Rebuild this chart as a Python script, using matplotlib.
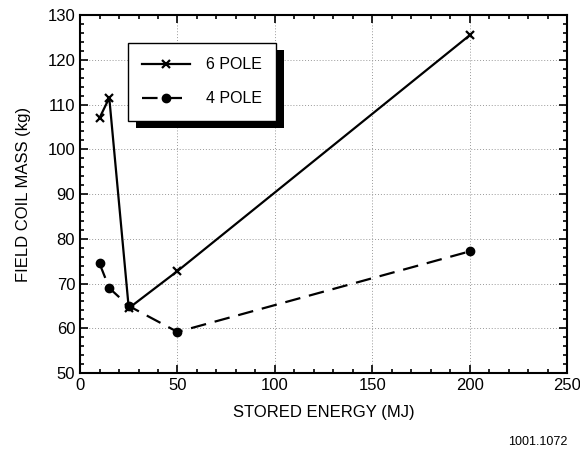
import matplotlib.pyplot as plt
from matplotlib.patches import Rectangle
from matplotlib.ticker import MultipleLocator

plt.rcParams['font.family'] = ['Liberation Sans', 'DejaVu Sans']

# stored energy (MJ)
energy_6 = [10, 15, 25, 50, 200]
energy_4 = [10, 15, 25, 50, 200]
# field coil mass (kg)
mass_6 = [107, 111.5, 64.5, 72.8, 125.5]
mass_4 = [74.5, 69, 65, 59.2, 77.2]

fig = plt.figure(figsize=(5.8, 4.55), dpi=100)
ax = fig.add_axes([0.138, 0.180, 0.840, 0.787])

ax.plot(energy_6, mass_6, color='black', lw=1.6, marker='x', ms=6, mew=1.6,
        label='6 POLE')
ax.plot(energy_4, mass_4, color='black', lw=1.6, ls=(0, (7, 4)), marker='o',
        ms=6, label='4 POLE')

ax.set_xlim(0, 250)
ax.set_ylim(50, 130)
ax.xaxis.set_major_locator(MultipleLocator(50))
ax.xaxis.set_minor_locator(MultipleLocator(10))
ax.yaxis.set_major_locator(MultipleLocator(10))
ax.yaxis.set_minor_locator(MultipleLocator(2))
ax.tick_params(which='both', direction='in', top=True, right=True,
               labelsize=12, width=1.2)
ax.tick_params(which='major', length=6)
ax.tick_params(which='minor', length=3)
for s in ax.spines.values():
    s.set_linewidth(1.5)
ax.grid(True, which='major', ls=(0, (1, 2)), color='#999999', lw=0.7)

ax.set_xlabel('STORED ENERGY (MJ)', fontsize=12, labelpad=9)
ax.set_ylabel('FIELD COIL MASS (kg)', fontsize=12, labelpad=12)

leg = ax.legend(loc='upper left', bbox_to_anchor=(0.098, 0.922), borderaxespad=0,
                fontsize=11.5, handlelength=3.0, fancybox=False, edgecolor='black',
                framealpha=1, borderpad=0.9, labelspacing=1.2, handletextpad=1.0)
leg.get_frame().set_linewidth(1.0)
leg.set_zorder(10)

fig.canvas.draw()
bb = leg.get_window_extent()
shadow = Rectangle((bb.x0 + 8, bb.y0 - 7), bb.width, bb.height, transform=None,
                   facecolor='black', edgecolor='none', zorder=9)
ax.add_artist(shadow)

fig.text(0.978, 0.022, '1001.1072', fontsize=9, ha='right')

fig.savefig('out.png', dpi=100)
